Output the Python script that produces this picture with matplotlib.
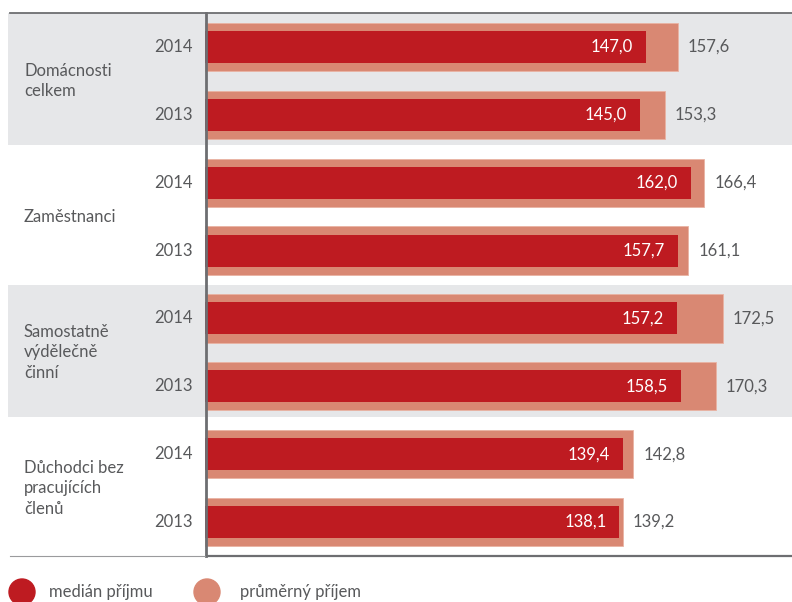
import matplotlib.pyplot as plt
from matplotlib.patches import Ellipse
from matplotlib.transforms import blended_transform_factory

# data
groups = ['Domácnosti\ncelkem', 'Zaměstnanci', 'Samostatně\nvýdělečně\nčinní', 'Důchodci bez\npracujících\nčlenů']
years = ['2014', '2013']
median = [147.0, 145.0, 162.0, 157.7, 157.2, 158.5, 139.4, 138.1]
prumer = [157.6, 153.3, 166.4, 161.1, 172.5, 170.3, 142.8, 139.2]

DARK = '#BE1B21'
LIGHT = '#D98873'
BAND = '#E6E7E9'
TXT = '#58595B'
LINE = '#6D6E71'

plt.rcParams['font.family'] = ['Lato', 'DejaVu Sans']

W, H = 792, 602
fig = plt.figure(figsize=(W / 100, H / 100), dpi=100)

def fx(px):
    return px / W

def fy(py):
    return 1 - py / H

top, bot = 13, 556
ax_left = 205

# background axes for the grey bands (full width)
bg = fig.add_axes([fx(8), fy(bot), 1 - fx(8), fy(top) - fy(bot)])
bg.set_xlim(0, 1)
bg.set_ylim(7.5, -0.5)
bg.axis('off')
for g in [0, 2]:
    bg.axhspan(2 * g - 0.5, 2 * g + 1.45, color=BAND, lw=0)

ax = fig.add_axes([fx(ax_left), fy(bot), 1 - fx(ax_left), fy(top) - fy(bot)])
ax.patch.set_alpha(0)
rows = list(range(len(median)))
ax.barh(rows, prumer, height=0.71, color=LIGHT, edgecolor='#E9B3A3', lw=0.6)
ax.barh(rows, median, height=0.47, color=DARK, lw=0)
ax.set_xlim(0, (W - ax_left) / 3.0)
ax.set_ylim(7.5, -0.5)
ax.set_xticks([])
ax.set_yticks([])
for s in ['top', 'right', 'bottom']:
    ax.spines[s].set_visible(False)
ax.spines['left'].set_position(('outward', -1))
ax.spines['left'].set_color(LINE)
ax.spines['left'].set_linewidth(2)

for i in rows:
    ax.text(median[i] - 4.3, i, f'{median[i]:.1f}'.replace('.', ','), color='white',
            ha='right', va='center', fontsize=12)
    ax.text(prumer[i] + 3.3, i, f'{prumer[i]:.1f}'.replace('.', ','), color=TXT,
            ha='left', va='center', fontsize=12)

# row and group labels
tr = blended_transform_factory(fig.transFigure, ax.transData)
for i in rows:
    ax.text(fx(193), i, years[i % 2], transform=tr, ha='right', va='center',
            fontsize=12, color=TXT)
for g, name in enumerate(groups):
    ax.text(fx(24), 2 * g + 0.5, name, transform=tr, ha='left', va='center',
            fontsize=12, color=TXT, linespacing=1.35)

# frame lines
fig.add_artist(plt.Line2D([fx(10), 1], [fy(top), fy(top)], color=LINE, lw=1.3))
fig.add_artist(plt.Line2D([fx(10), fx(207)], [fy(bot), fy(bot)], color='#9A9B9D', lw=0.8))
fig.add_artist(plt.Line2D([fx(207), 1], [fy(bot), fy(bot)], color=LINE, lw=1.6))

# legend
leg = [('medián příjmu', DARK, 22, 49), ('průměrný příjem', LIGHT, 207, 240)]
for label, col, cx, tx in leg:
    fig.add_artist(Ellipse((fx(cx), fy(592)), 26 / W, 26 / H, color=col,
                           transform=fig.transFigure))
    fig.text(fx(tx), fy(592), label, ha='left', va='center', fontsize=12, color=TXT)

fig.savefig('out.png', dpi=100)
